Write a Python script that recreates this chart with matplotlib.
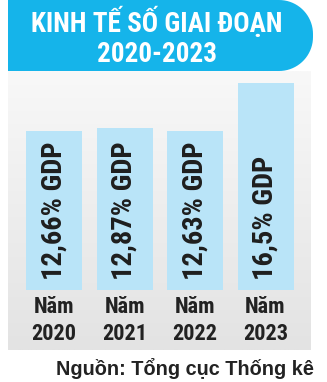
import matplotlib
matplotlib.use('Agg')
import matplotlib.pyplot as plt
import numpy as np
from matplotlib.path import Path
from matplotlib.patches import PathPatch
from matplotlib.colors import LinearSegmentedColormap

years = ['2020', '2021', '2022', '2023']
values = [12.66, 12.87, 12.63, 16.5]
bar_labels = ['12,66% GDP', '12,87% GDP', '12,63% GDP', '16,5% GDP']
title_lines = ['KINH TẾ SỐ GIAI ĐOẠN', '2020-2023']
source = 'Nguồn: Tổng cục Thống kê'

W, H = 327, 382
NARROW = ['Roboto Condensed', 'Archivo Narrow', 'Barlow Condensed', 'DejaVu Sans']

fig = plt.figure(figsize=(W / 100, H / 100), dpi=100)
fig.patch.set_facecolor('white')

bg = fig.add_axes([0, 0, 1, 1])
bg.set_xlim(0, W)
bg.set_ylim(H, 0)
bg.axis('off')

# gray gradient panel
grad = np.linspace(0, 1, 256).reshape(-1, 1)
cmap = LinearSegmentedColormap.from_list('g', ['#f8f8f8', '#e3e3e3'])
bg.imshow(grad, extent=(8, 311, 350, 71), cmap=cmap, aspect='auto', zorder=0)

# header with rounded right end
x0, x1, y0, y1, r = 8, 313, 0, 71, 34
t = np.linspace(0, np.pi / 2, 20)
verts = [(x0, y0), (x1 - r, y0)]
verts += [(x1 - r + r * np.sin(a), y0 + r - r * np.cos(a)) for a in t]
verts += [(x1 - r + r * np.cos(a), y1 - r + r * np.sin(a)) for a in t]
verts += [(x0, y1), (x0, y0)]
bg.add_patch(PathPatch(Path(verts), facecolor='#15b4ea', edgecolor='none', zorder=1))
bg.text(157, 32, title_lines[0], color='white', fontsize=19.5, fontweight='bold',
        family=NARROW, ha='center', va='baseline', zorder=2)
bg.text(157, 62, title_lines[1], color='white', fontsize=19.5, fontweight='bold',
        family=NARROW, ha='center', va='baseline', zorder=2)

# bars
px_per_unit = 12.56
ax = fig.add_axes([8 / W, (H - 290) / H, (311 - 8) / W, (290 - 71) / H])
ax.patch.set_alpha(0)
ax.set_ylim(0, (290 - 71) / px_per_unit)
step = 70.5
ax.set_xlim(-46 / step, (303 - 46) / step)
ax.axis('off')
xs = np.arange(len(values))
ax.bar(xs, values, width=56 / step, color='#b9e4f8', zorder=2)
for x, lab in zip(xs, bar_labels):
    ax.text(x, 10 / px_per_unit, lab, rotation=90, ha='center', va='bottom',
            fontsize=20.5, fontweight='bold', family=NARROW, color='#1e1e1e', zorder=3)

# year labels
for x, y in zip(xs, years):
    xp = 8 + 46 + x * step
    bg.text(xp, 313, 'Năm', ha='center', va='baseline', fontsize=16, fontweight='bold',
            family=NARROW, color='#222222', zorder=3)
    bg.text(xp, 340, y, ha='center', va='baseline', fontsize=16, fontweight='bold',
            family=NARROW, color='#222222', zorder=3)

bg.text(314, 375, source, ha='right', va='baseline', fontsize=14.3, fontweight='bold',
        family=['Liberation Sans', 'DejaVu Sans'], color='#222222', zorder=3)

fig.savefig('out.png', dpi=100)
